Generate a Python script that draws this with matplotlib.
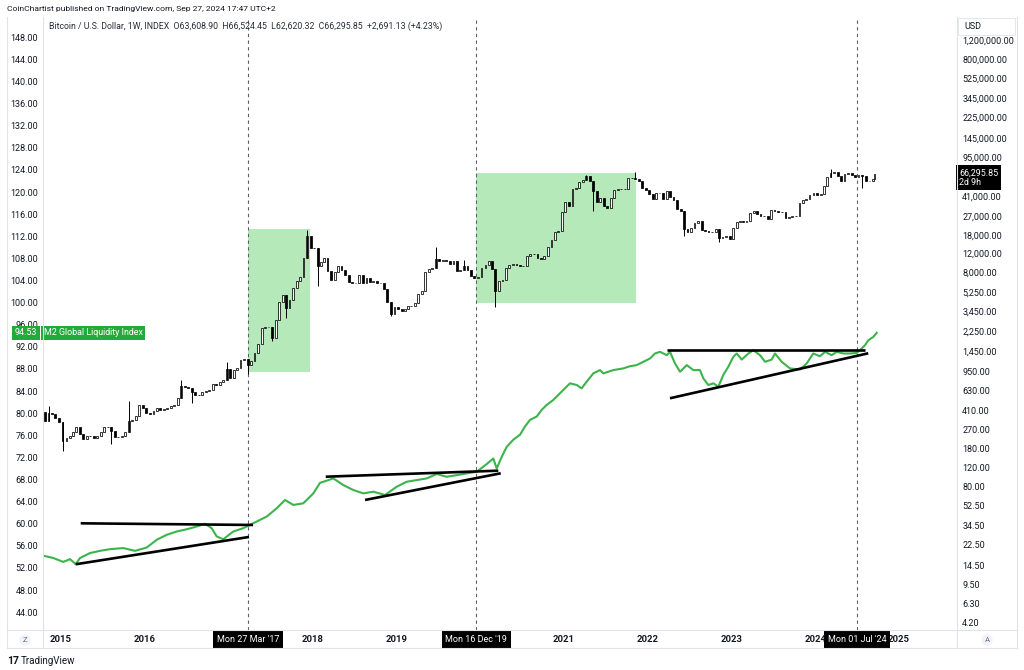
import matplotlib
matplotlib.use("Agg")
import matplotlib.pyplot as plt
import matplotlib.transforms as mtrans
from matplotlib.lines import Line2D
from matplotlib.patches import Rectangle
import numpy as np
import pandas as pd

plt.rcParams["font.family"] = ["Roboto", "DejaVu Sans"]

# ---- BTC/USD, semi-monthly closes (1st and 15th) ----
btc_first_open = 390
btc_2014 = [383, 394, 325, 390, 379, 348]
btc_2015 = [315, 210, 226, 236, 255, 286, 245, 222, 236, 237, 225, 236,
            258, 287, 284, 262, 229, 231, 237, 254, 325, 334, 362, 455]
btc_2016 = [431, 389, 376, 405, 434, 415, 417, 428, 450, 455, 535, 690,
            675, 664, 607, 570, 574, 607, 614, 640, 729, 712, 755, 780]
btc_2017 = [998, 820, 986, 1010, 1222, 1240, 1080, 1180, 1420, 1720, 2400, 2450,
            2480, 1950, 2870, 4200, 4880, 3700, 4400, 5700, 6700, 7300, 10900, 17600]
btc_2018 = [13500, 13600, 9100, 10100, 10900, 8200, 6800, 8000, 9200, 8500, 7500, 6500,
            6400, 6300, 7600, 6300, 7100, 6500, 6600, 6400, 6350, 5600, 4200, 3250]
btc_2019 = [3800, 3600, 3450, 3600, 3850, 3900, 4150, 5050, 5350, 8000, 8550, 8800,
            10600, 10200, 10400, 10300, 9600, 10300, 8300, 8350, 9150, 8500, 7400, 7100]
btc_2020 = [7200, 8800, 9400, 10300, 8550, 5400, 6600, 6850, 8800, 9300, 9500, 9400,
            9200, 9250, 11300, 11900, 11900, 10800, 10600, 11400, 13800, 16000, 19200, 19400]
btc_2021 = [29400, 36800, 33500, 48000, 49600, 56000, 58800, 63300, 57800, 46700, 36700, 40200,
            33600, 31800, 39900, 47000, 48800, 48100, 48200, 61500, 61000, 60100, 57200, 48900]
btc_2022 = [47700, 43100, 38700, 44500, 44400, 39300, 46300, 40500, 38500, 31300, 29800, 20400,
            19300, 20800, 23300, 24300, 20100, 19700, 19300, 19200, 20500, 16900, 17000, 17400]
btc_2023 = [16600, 20900, 23700, 24300, 23600, 24400, 28500, 30300, 28100, 27200, 27000, 25100,
            30600, 30300, 29700, 29300, 25900, 26600, 27000, 27150, 35400, 37800, 38700, 42000]
btc_2024 = [44200, 42500, 43100, 51800, 62400, 68400, 69700, 63400, 58000, 66300, 67700, 66000,
            62900, 64800, 64600, 57600, 57300, 60000]
btc_last_date = "2024-09-23"
btc_last = 66295.85

# notable weekly wicks (decimal year, extreme price)
wick_t = [2014.87, 2015.04, 2015.64, 2015.84, 2016.46, 2016.59, 2017.01, 2017.23, 2017.54,
          2017.71, 2017.96, 2018.10, 2018.95, 2019.49, 2019.82, 2020.20, 2021.28, 2021.38,
          2021.86, 2022.46, 2022.89, 2024.20, 2024.59]
wick_px = [450, 170, 200, 500, 780, 480, 1150, 890, 1830, 2980, 19800, 6000, 3150, 13800,
           10500, 3800, 64800, 30000, 69000, 17600, 15500, 73800, 49000]

# ---- M2 Global Liquidity Index (left scale) ----
m2_t = [2014.797, 2014.908, 2015.027, 2015.107, 2015.175, 2015.227, 2015.346, 2015.465,
        2015.585, 2015.743, 2015.883, 2016.023, 2016.142, 2016.261, 2016.381, 2016.500,
        2016.619, 2016.718, 2016.798, 2016.858, 2016.937, 2017.056, 2017.175, 2017.295,
        2017.455, 2017.574, 2017.673, 2017.772, 2017.891, 2018.011, 2018.091, 2018.171,
        2018.249, 2018.369, 2018.488, 2018.607, 2018.727, 2018.866, 2019.006, 2019.125,
        2019.245, 2019.364, 2019.483, 2019.603, 2019.722, 2019.841, 2019.960, 2020.080,
        2020.159, 2020.199, 2020.259, 2020.318, 2020.397, 2020.477, 2020.537, 2020.597,
        2020.677, 2020.736, 2020.796, 2020.875, 2020.934, 2021.014, 2021.074, 2021.154,
        2021.213, 2021.273, 2021.352, 2021.432, 2021.471, 2021.591, 2021.710, 2021.790,
        2021.870, 2021.949, 2022.029, 2022.088, 2022.148, 2022.228, 2022.267, 2022.327,
        2022.387, 2022.467, 2022.546, 2022.625, 2022.665, 2022.724, 2022.784, 2022.844,
        2022.903, 2022.963, 2023.023, 2023.063, 2023.123, 2023.202, 2023.261, 2023.341,
        2023.401, 2023.481, 2023.520, 2023.600, 2023.699, 2023.819, 2023.898, 2023.977,
        2024.057, 2024.117, 2024.197, 2024.257, 2024.336, 2024.415, 2024.495, 2024.555,
        2024.594, 2024.634, 2024.693, 2024.734]
m2_v = [54.2, 53.8, 53.1, 53.6, 52.7, 53.8, 54.7, 55.1,
        55.4, 55.6, 55.1, 55.7, 57.1, 58.0, 58.6, 59.0,
        59.5, 60.0, 59.2, 57.7, 57.2, 58.6, 59.2, 60.1,
        61.3, 62.8, 64.3, 63.4, 63.7, 65.5, 67.4, 67.8,
        68.2, 67.0, 66.1, 65.5, 65.8, 65.2, 66.7, 67.6,
        67.9, 68.2, 69.0, 68.5, 68.8, 69.1, 69.4, 70.8,
        71.8, 70.0, 72.1, 73.9, 75.2, 76.1, 77.6, 78.8,
        79.4, 80.6, 81.5, 82.4, 83.3, 84.5, 85.4, 85.1,
        84.5, 85.7, 87.2, 87.8, 87.2, 87.8, 88.1, 88.5,
        88.7, 89.3, 89.9, 90.8, 91.1, 90.5, 91.1, 89.0,
        87.5, 88.7, 87.8, 87.8, 86.3, 85.1, 85.4, 84.8,
        86.9, 88.4, 90.2, 90.8, 89.7, 90.8, 91.4, 90.5,
        89.3, 89.7, 90.8, 89.3, 88.1, 87.9, 89.0, 90.8,
        90.3, 91.1, 90.5, 91.1, 90.8, 90.8, 90.9, 91.7,
        92.3, 93.2, 93.8, 94.53]

# hand-drawn trend lines on the M2 series
tl_t0 = [2015.235, 2015.175, 2018.159, 2018.628, 2022.228, 2022.267]
tl_v0 = [60.08, 52.67, 68.51, 64.30, 91.43, 82.70]
tl_t1 = [2017.291, 2017.243, 2020.218, 2020.247, 2024.594, 2024.633]
tl_v1 = [59.78, 57.61, 69.60, 69.13, 91.43, 90.84]

# green highlight boxes on the price
box_t0 = [2017.228, 2019.952]
box_t1 = [2017.971, 2021.858]
box_lo = [928, 4110]
box_hi = [20260, 67760]

marker_dates = ["2017-03-27", "2019-12-16", "2024-07-01"]
marker_labels = ["Mon 27 Mar '17", "Mon 16 Dec '19", "Mon 01 Jul '24"]

left_ticks = list(range(44, 149, 4))
right_ticks = [1200000, 800000, 525000, 345000, 225000, 145000, 95000, 41000, 27000,
               18000, 12000, 8000, 5250, 3450, 2250, 1450, 950, 630, 410, 270, 180,
               120, 80, 52.5, 34.5, 22.5, 14.5, 9.5, 6.3, 4.2]
# 2017 and 2020 sit under the date markers, so they are not shown
year_ticks = [2015, 2016, 2018, 2019, 2021, 2022, 2023, 2024, 2025]


def dec_year(ts):
    ts = pd.Timestamp(ts)
    return ts.year + (ts.dayofyear - 1) / 365.25


W, H = 1024, 670


def fx(x):
    return x / W


def fy(y):
    return 1 - y / H


fig = plt.figure(figsize=(10.24, 6.70), dpi=100)
ax = fig.add_axes([fx(43), fy(630), fx(957) - fx(43), fy(18) - fy(630)])
ax_m2 = ax.twinx()

ax.set_yscale("log")
ax.set_xlim(2014.785, 2025.692)
ax.set_ylim(10 ** 0.555, 10 ** 6.285)
ax_m2.set_ylim(40.78, 151.49)

for a in (ax, ax_m2):
    for s in a.spines.values():
        s.set_visible(False)

ax.yaxis.set_ticks_position("right")
ax_m2.yaxis.set_ticks_position("left")
ax.set_yticks(right_ticks, labels=[f"{v:,.2f}" for v in right_ticks])
ax.yaxis.set_minor_locator(plt.NullLocator())
ax_m2.set_yticks(left_ticks, labels=[f"{v:.2f}" for v in left_ticks])
ax.tick_params(axis="y", length=0, pad=3.8, labelsize=6.5, labelcolor="#131722")
ax_m2.tick_params(axis="y", length=0, pad=3.6, labelsize=6.5, labelcolor="#131722")
ax.tick_params(axis="x", which="both", length=0, labelbottom=False)
ax_m2.tick_params(axis="x", which="both", length=0, labelbottom=False)

# highlight boxes
for t0, t1, lo, hi in zip(box_t0, box_t1, box_lo, box_hi):
    ax.add_patch(Rectangle((t0, lo), t1 - t0, hi - lo, facecolor="#b6e9ba",
                           edgecolor="none", zorder=1))

# dashed markers
for d in marker_dates:
    ax.axvline(dec_year(d), color="#5d606b", lw=0.8, ls=(0, (3, 3)), zorder=2)

# candles
closes = btc_2014 + btc_2015 + btc_2016 + btc_2017 + btc_2018 + btc_2019 + \
    btc_2020 + btc_2021 + btc_2022 + btc_2023 + btc_2024
dates = list(pd.date_range("2014-10-01", periods=len(closes), freq="SMS"))
dates.append(pd.Timestamp(btc_last_date))
closes = np.array(closes + [btc_last], dtype=float)
opens = np.concatenate([[btc_first_open], closes[:-1]])
t = np.array([dec_year(d) for d in dates]) - 0.02
up = closes >= opens
ax.bar(t[up], (closes - opens)[up], bottom=opens[up], width=0.022,
       facecolor="white", edgecolor="black", linewidth=0.55, zorder=3)
ax.bar(t[~up], (opens - closes)[~up], bottom=closes[~up], width=0.022,
       facecolor="black", edgecolor="black", linewidth=0.55, zorder=3)
for wt, wp in zip(wick_t, wick_px):
    i = int(np.argmin(np.abs(t + 0.02 - wt)))
    lo = min(opens[i], closes[i])
    hi = max(opens[i], closes[i])
    ax.vlines(t[i], min(wp, lo), max(wp, hi), color="black", lw=0.7, zorder=3)

# M2 line and trend lines
ax_m2.plot(m2_t, m2_v, color="#3cb44b", lw=1.5, zorder=4)
for t0, v0, t1, v1 in zip(tl_t0, tl_v0, tl_t1, tl_v1):
    ax_m2.plot([t0, t1], [v0, v1], color="black", lw=1.9,
               solid_capstyle="butt", zorder=5)

# frame lines
border = "#e0e3eb"
for (x0, y0, x1, y1) in [(7, 17, 7, 648), (43, 17, 43, 648), (957, 17, 957, 648),
                         (1017, 17, 1017, 648), (7, 630, 1017, 630), (7, 648, 1017, 648)]:
    fig.add_artist(Line2D([fx(x0), fx(x1)], [fy(y0), fy(y1)], color=border, lw=0.8))

# header texts
fig.text(fx(7), fy(9), "CoinChartist published on TradingView.com, Sep 27, 2024 17:47 UTC+2",
         fontsize=6.1, color="#131722", va="center", ha="left")
fig.text(fx(49), fy(26),
         "Bitcoin / U.S. Dollar, 1W, INDEX  O63,608.90  H66,524.45  L62,620.32  "
         "C66,295.85  +2,691.13 (+4.23%)",
         fontsize=6.3, color="#2a2e39", va="center", ha="left")

# time axis
tx = mtrans.blended_transform_factory(ax.transData, fig.transFigure)
for yr in year_ticks:
    ax.text(yr, fy(640), str(yr), transform=tx, ha="center", va="center",
            fontsize=6.8, fontweight="bold", color="#131722", clip_on=False)
for d, lab in zip(marker_dates, marker_labels):
    ax.text(dec_year(d), fy(639.5), lab, transform=tx, ha="center", va="center",
            fontsize=6.5, color="white", clip_on=False, zorder=10,
            bbox=dict(boxstyle="square,pad=0.4", facecolor="black", edgecolor="none"))

# USD box on price scale
fig.add_artist(Rectangle((fx(958), fy(35)), fx(1015) - fx(958), fy(18) - fy(35),
                         transform=fig.transFigure, facecolor="white",
                         edgecolor="#e0e3eb", lw=0.6, zorder=20))
fig.text(fx(964), fy(26.5), "USD", fontsize=6.5, color="#131722", va="center",
         ha="left", zorder=21)

# last price label
ty = mtrans.blended_transform_factory(fig.transFigure, ax.transData)
ax.text(fx(959), btc_last, "66,295.85\n2d 9h",
        transform=mtrans.offset_copy(ty, fig, y=6, units="dots"),
        ha="left", va="top", fontsize=6.4, color="white", linespacing=1.05, clip_on=False,
        zorder=10, bbox=dict(boxstyle="square,pad=0.35", facecolor="black", edgecolor="none"))

# M2 labels
tm = mtrans.blended_transform_factory(fig.transFigure, ax_m2.transData)
ax_m2.text(fx(15), m2_v[-1], "94.53", transform=tm, ha="left", va="center",
           fontsize=6.4, color="white", clip_on=False, zorder=10,
           bbox=dict(boxstyle="square,pad=0.3", facecolor="#22ab3a", edgecolor="none"))
ax_m2.text(fx(43.5), m2_v[-1], "M2 Global Liquidity Index", transform=tm, ha="left",
           va="center", fontsize=6.4, color="white", clip_on=False, zorder=10,
           bbox=dict(boxstyle="square,pad=0.3", facecolor="#22ab3a", edgecolor="none"))

# corner buttons
for xb, letter in [(25, "Z"), (987, "A")]:
    fig.text(fx(xb), fy(640), letter, fontsize=5.5, color="#6a6d78", ha="center",
             va="center", bbox=dict(boxstyle="circle,pad=0.35", facecolor="#f0f3fa",
                                    edgecolor="none"))

# TradingView logo line
fig.text(fx(7), fy(661), "17", fontsize=7.5, fontweight="bold", color="#131722",
         va="center", ha="left")
fig.text(fx(21), fy(661), "TradingView", fontsize=7, color="#131722", va="center", ha="left")

fig.savefig("out.png", dpi=100)
